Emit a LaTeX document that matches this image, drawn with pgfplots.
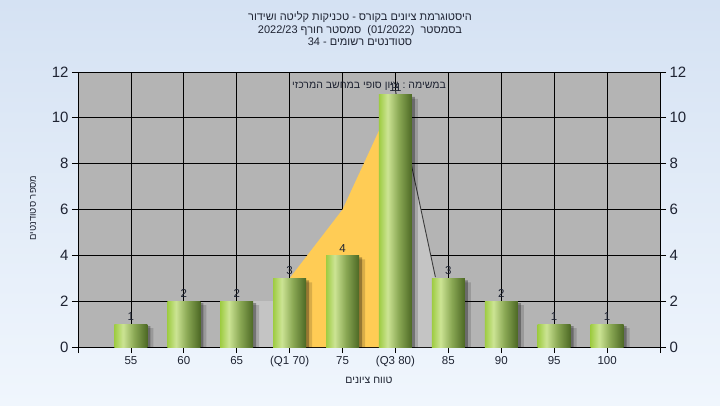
\documentclass[border=0pt]{standalone}
\usepackage{fontspec}
\setmainfont{Liberation Sans}
\newfontfamily\heb[Script=Hebrew]{Liberation Sans}
\usepackage{pgfplots}
\usepackage{pgfplotstable}
\pgfplotsset{compat=1.18}
\TeXXeTstate=1
\definecolor{bgtop}{RGB}{213,226,243}
\definecolor{bgbot}{RGB}{240,246,253}
\definecolor{plotbg}{RGB}{180,180,180}
\definecolor{lightarea}{RGB}{196,196,196}
\definecolor{iqr}{RGB}{255,204,85}
\definecolor{bA}{RGB}{158,204,66}
\definecolor{bB}{RGB}{204,228,148}
\definecolor{bC}{RGB}{138,168,84}
\definecolor{bD}{RGB}{76,104,36}
\definecolor{lbl}{RGB}{30,35,50}
\definecolor{edgeline}{RGB}{60,60,60}
\pgfdeclarehorizontalshading{barshade}{100bp}{color(0bp)=(bA); color(25bp)=(bA); color(38bp)=(bB); color(55bp)=(bC); color(75bp)=(bD); color(100bp)=(bD)}
\pgfplotstableread{
x y
0 1
1 2
2 2
3 3
4 4
5 11
6 3
7 2
8 1
9 1
}\grades
\begin{document}
\begin{tikzpicture}
\shade[top color=bgtop, bottom color=bgbot] (0pt,0pt) rectangle (720pt,405pt);
\begin{axis}[
  at={(78pt,58pt)}, anchor=south west,
  width=582pt, height=275pt, scale only axis,
  xmin=-1, xmax=10, ymin=0, ymax=12,
  axis background/.style={fill=plotbg},
  xtick={-1,0,...,10},
  xticklabels={,55,60,65,(Q1 70),75,(Q3 80),85,90,95,100,},
  ytick={0,2,...,12},
  xtick pos=lower, ytick pos=left,
  tick align=outside, major tick length=6pt,
  grid=major, major grid style={black, line width=0.8pt},
  axis line style={black, line width=1pt},
  tick style={black, line width=0.8pt},
  x tick label style={font=\fontsize{11.5}{12}\selectfont, text=lbl},
  y tick label style={font=\fontsize{15}{15}\selectfont, text=lbl},
  /pgf/number format/assume math mode=true,
]
% light grey area pieces
\addplot[fill=lightarea, draw=none] coordinates {(2,2)(3,2)} \closedcycle;
\addplot[fill=lightarea, draw=none] coordinates {(5,11.2)(5.755,3.05)} \closedcycle;
% interquartile area
\addplot[fill=iqr, draw=none] coordinates {(3,3)(4,6)(5,11)} \closedcycle;
\addplot[edgeline, line width=0.9pt] coordinates {(5,11.2)(5.755,3.05)};
% shadows
\addplot[ybar, bar width=33pt, bar shift=6pt, fill=black, fill opacity=0.15, draw=none, yshift=-4pt] table[x=x,y=y] {\grades};
\addplot[ybar, bar width=33pt, bar shift=3pt, fill=black, fill opacity=0.3, draw=none, yshift=-2pt] table[x=x,y=y] {\grades};
% bars, one path each so that each is shaded on its own
\pgfplotsinvokeforeach{0,...,9}{
  \addplot[ybar, bar width=33pt, bar shift=0pt, draw=none, shade, shading=barshade,
    restrict x to domain=#1:#1] table[x=x,y=y] {\grades};
}
% value labels
\addplot[draw=none, nodes near coords,
  every node near coord/.append style={font=\fontsize{11.5}{12}\selectfont, text=lbl, inner sep=3pt}]
  table[x=x,y=y] {\grades};
\node[font={\heb\fontsize{10.5}{12}\selectfont}, text=lbl] at (rel axis cs:0.5,0.949)
  {\beginR במשימה : ציון סופי במחשב המרכזי\endR};
\end{axis}
\begin{axis}[
  at={(78pt,58pt)}, anchor=south west,
  width=582pt, height=275pt, scale only axis,
  xmin=-1, xmax=10, ymin=0, ymax=12,
  axis y line*=right, axis x line=none,
  ytick={0,2,...,12},
  tick align=outside, major tick length=6pt,
  axis line style={black, line width=1pt},
  tick style={black, line width=0.8pt},
  y tick label style={font=\fontsize{15}{15}\selectfont, text=lbl},
  /pgf/number format/assume math mode=true,
]
\addplot[draw=none] coordinates {(0,0)};
\end{axis}
\node[anchor=north, align=center, text=lbl, font={\heb\fontsize{11}{12.6}\selectfont}] at (360pt,397pt)
  {\beginR היסטוגרמת ציונים בקורס - טכניקות קליטה ושידור\endR\\
   \beginR בסמסטר\ \ \beginL(01/2022)\endL{}\ \ סמסטר חורף \beginL2022/23\endL\endR\\
   \beginR סטודנטים רשומים - \beginL34\endL\endR};
\node[rotate=90, text=lbl, font={\heb\fontsize{9.5}{10}\selectfont}] at (33pt,197pt)
  {\beginR מספר סטודנטים\endR};
\node[text=lbl, font={\heb\fontsize{10.5}{12}\selectfont}] at (369pt,25pt)
  {\beginR טווח ציונים\endR};
\end{tikzpicture}
\end{document}
